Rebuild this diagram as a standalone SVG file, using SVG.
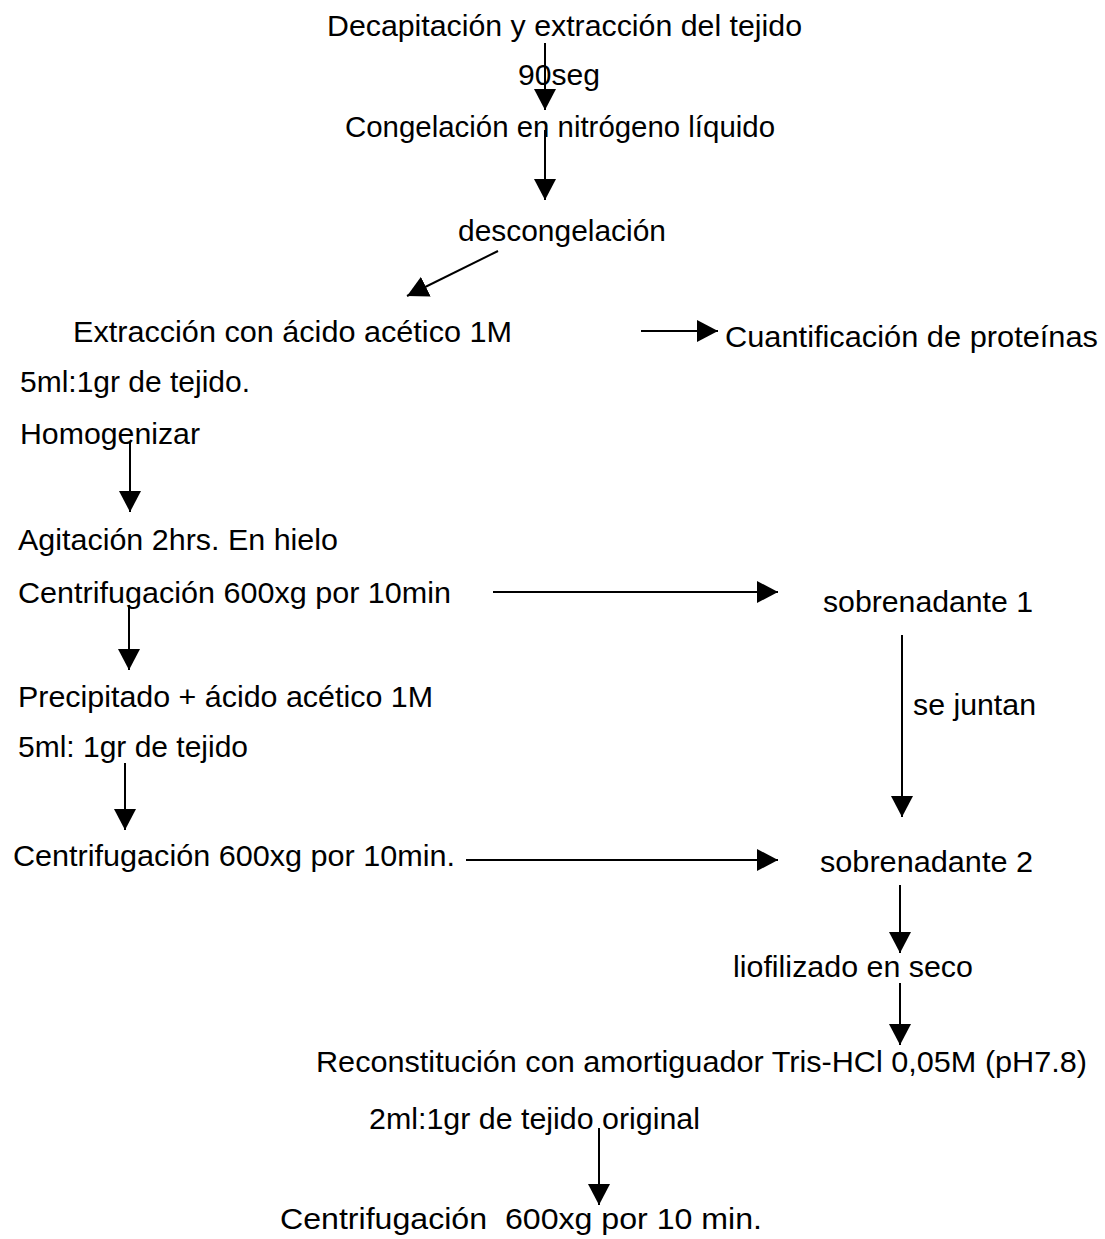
<svg xmlns="http://www.w3.org/2000/svg" width="1105" height="1239" viewBox="0 0 1105 1239">
<defs>
<style>
text{font-family:"Liberation Sans",Arial,sans-serif;font-size:29.5px;fill:#000}
.c line{stroke:#000;stroke-width:2;fill:none}
</style>
<marker id="ah" markerUnits="userSpaceOnUse" markerWidth="22" markerHeight="22" refX="21" refY="11" orient="auto" viewBox="0 0 22 22">
<path d="M0,0 L21,11 L0,22 z" fill="#000"/>
</marker>
</defs>
<rect width="1105" height="1239" fill="#fff"/>
<g class="c" id="connectors">
<line x1="545" y1="43" x2="545" y2="110" marker-end="url(#ah)"/>
<line x1="545" y1="130" x2="545" y2="200" marker-end="url(#ah)"/>
<line x1="498" y1="251" x2="407" y2="296" marker-end="url(#ah)"/>
<line x1="641" y1="331" x2="718" y2="331" marker-end="url(#ah)"/>
<line x1="130" y1="442" x2="130" y2="512" marker-end="url(#ah)"/>
<line x1="493" y1="592" x2="778" y2="592" marker-end="url(#ah)"/>
<line x1="129" y1="605" x2="129" y2="670" marker-end="url(#ah)"/>
<line x1="902" y1="635" x2="902" y2="817" marker-end="url(#ah)"/>
<line x1="125" y1="763" x2="125" y2="830" marker-end="url(#ah)"/>
<line x1="466" y1="860" x2="778" y2="860" marker-end="url(#ah)"/>
<line x1="900" y1="885" x2="900" y2="953" marker-end="url(#ah)"/>
<line x1="900" y1="983" x2="900" y2="1045" marker-end="url(#ah)"/>
<line x1="599" y1="1128" x2="599" y2="1205" marker-end="url(#ah)"/>
</g>
<g id="n1"><text x="327" y="36" textLength="475" lengthAdjust="spacingAndGlyphs">Decapitación y extracción del tejido</text></g>
<g id="l1"><text x="518" y="85" textLength="82" lengthAdjust="spacingAndGlyphs">90seg</text></g>
<g id="n2"><text x="345" y="137" textLength="430" lengthAdjust="spacingAndGlyphs">Congelación en nitrógeno líquido</text></g>
<g id="n3"><text x="458" y="241" textLength="208" lengthAdjust="spacingAndGlyphs">descongelación</text></g>
<g id="n4">
<text x="73" y="342" textLength="439" lengthAdjust="spacingAndGlyphs">Extracción con ácido acético 1M</text>
<text x="20" y="392" textLength="230" lengthAdjust="spacingAndGlyphs">5ml:1gr de tejido.</text>
<text x="20" y="444" textLength="180" lengthAdjust="spacingAndGlyphs">Homogenizar</text>
</g>
<g id="n5"><text x="725" y="347" textLength="373" lengthAdjust="spacingAndGlyphs">Cuantificación de proteínas</text></g>
<g id="n6">
<text x="18" y="550" textLength="320" lengthAdjust="spacingAndGlyphs">Agitación 2hrs. En hielo</text>
<text x="18" y="603" textLength="433" lengthAdjust="spacingAndGlyphs">Centrifugación 600xg por 10min</text>
</g>
<g id="n7"><text x="823" y="612" textLength="210" lengthAdjust="spacingAndGlyphs">sobrenadante 1</text></g>
<g id="l2"><text x="913" y="715" textLength="123" lengthAdjust="spacingAndGlyphs">se juntan</text></g>
<g id="n8">
<text x="18" y="707" textLength="415" lengthAdjust="spacingAndGlyphs">Precipitado + ácido acético 1M</text>
<text x="18" y="757" textLength="230" lengthAdjust="spacingAndGlyphs">5ml: 1gr de tejido</text>
</g>
<g id="n9"><text x="13" y="866" textLength="442" lengthAdjust="spacingAndGlyphs">Centrifugación 600xg por 10min.</text></g>
<g id="n10"><text x="820" y="872" textLength="213" lengthAdjust="spacingAndGlyphs">sobrenadante 2</text></g>
<g id="n11"><text x="733" y="977" textLength="240" lengthAdjust="spacingAndGlyphs">liofilizado en seco</text></g>
<g id="n12">
<text x="316" y="1072" textLength="771" lengthAdjust="spacingAndGlyphs">Reconstitución con amortiguador Tris-HCl 0,05M (pH7.8)</text>
<text x="369" y="1129" textLength="331" lengthAdjust="spacingAndGlyphs">2ml:1gr de tejido original</text>
</g>
<g id="n13"><text x="280" y="1229" textLength="482" lengthAdjust="spacingAndGlyphs" xml:space="preserve">Centrifugación  600xg por 10 min.</text></g>
</svg>
